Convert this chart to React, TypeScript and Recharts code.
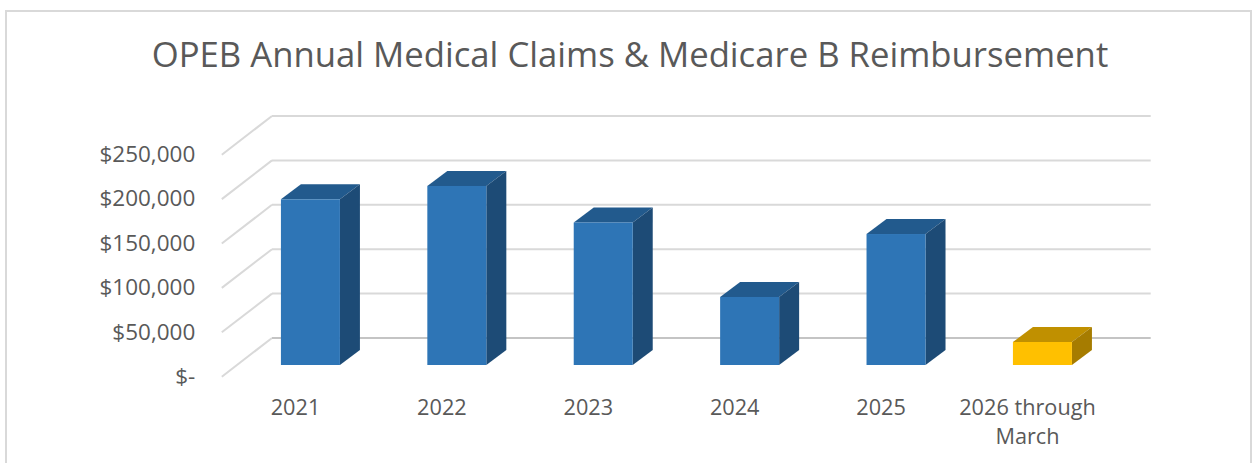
import { Bar, BarChart, CartesianGrid, XAxis, YAxis } from 'recharts'

const categories = ['2021', '2022', '2023', '2024', '2025', '2026 through March']
const claims = [186600, 201600, 160500, 76600, 147500, 25900]
const yTicks = [0, 50000, 100000, 150000, 200000, 250000]
const yTickLabels = ['$-', '$50,000', '$100,000', '$150,000', '$200,000', '$250,000']
const frontColors = ['#2E75B6', '#2E75B6', '#2E75B6', '#2E75B6', '#2E75B6', '#FFC000']
const topColors = ['#225A8D', '#225A8D', '#225A8D', '#225A8D', '#225A8D', '#C09000']
const sideColors = ['#1D4B76', '#1D4B76', '#1D4B76', '#1D4B76', '#1D4B76', '#A67C00']

const data = categories.map((name, i) => ({ name, claims: claims[i] }))

const FONT = '"Open Sans", sans-serif'
const TEXT_COLOR = '#595959'
const DEPTH_X = 20
const DEPTH_Y = 15

function Bar3D({ x, y, width, height, index }: any) {
  const r = x + width
  const b = y + height
  return (
    <g>
      <polygon points={`${x},${y} ${x + DEPTH_X},${y - DEPTH_Y} ${r + DEPTH_X},${y - DEPTH_Y} ${r},${y}`} fill={topColors[index]} />
      <polygon points={`${r},${y} ${r + DEPTH_X},${y - DEPTH_Y} ${r + DEPTH_X},${b - DEPTH_Y} ${r},${b}`} fill={sideColors[index]} />
      <rect x={x} y={y} width={width} height={height} fill={frontColors[index]} />
    </g>
  )
}

// wall and floor lines of the fake 3D box, offset from the value position
function GridLine3D({ x1, x2, y1, index }: any) {
  const back = y1 - 27
  const front = y1 + 11.7
  return (
    <g fill="none" stroke={index === 0 ? '#C4C4C4' : '#D9D9D9'} strokeWidth={2}>
      <line x1={x1 - 15.5} y1={front} x2={x1 + 34.7} y2={back} stroke="#D9D9D9" />
      <line x1={x1 + 34.7} y1={back} x2={x2 + 35} y2={back} />
    </g>
  )
}

function YTick({ x, y, payload }: any) {
  const i = yTicks.indexOf(payload.value)
  return (
    <text x={x} y={y + 10.5} textAnchor="end" dominantBaseline="central" fontFamily={FONT} fontSize={22.5} fill={TEXT_COLOR}>
      {yTickLabels[i]}
    </text>
  )
}

function XTick({ x, y, payload }: any) {
  const label: string = payload.value
  const lines = label.includes(' through ') ? [label.slice(0, label.lastIndexOf(' ')), label.slice(label.lastIndexOf(' ') + 1)] : [label]
  return (
    <text x={x - 15} y={y} textAnchor="middle" fontFamily={FONT} fontSize={21.7} fill={TEXT_COLOR}>
      {lines.map((line, i) => (
        <tspan key={line} x={x - 15} dy={i === 0 ? 0 : 29}>
          {line}
        </tspan>
      ))}
    </text>
  )
}

export default function App() {
  return (
    <div style={{ position: 'absolute', left: 0, top: 0, width: 1254, height: 463, overflow: 'hidden', background: '#fff' }}>
      <div style={{ position: 'absolute', left: 5, top: 10, width: 1247, height: 480, border: '2px solid #D9D9D9', boxSizing: 'border-box' }} />
      <div
        style={{
          position: 'absolute',
          left: 0,
          top: 32,
          width: 1260,
          textAlign: 'center',
          fontFamily: FONT,
          fontSize: 34.7,
          lineHeight: '44px',
          color: TEXT_COLOR,
          whiteSpace: 'nowrap',
        }}
      >
        OPEB Annual Medical Claims &amp; Medicare B Reimbursement
      </div>
      <BarChart
        width={1254}
        height={463}
        data={data}
        margin={{ top: 143, right: 138.3, bottom: 0, left: 0 }}
        barCategoryGap="29.8%"
        style={{ position: 'absolute', left: 0, top: 0 }}
      >
        <CartesianGrid vertical={false} horizontal={(props: any) => <GridLine3D key={props.index} {...props} />} />
        <XAxis
          dataKey="name"
          axisLine={false}
          tickLine={false}
          interval={0}
          height={98}
          tick={<XTick />}
          tickMargin={44}
        />
        <YAxis
          type="number"
          domain={[0, 250000]}
          ticks={yTicks}
          axisLine={false}
          tickLine={false}
          width={237.3}
          tick={<YTick />}
          tickMargin={36}
        />
        <Bar dataKey="claims" isAnimationActive={false} shape={<Bar3D />} />
      </BarChart>
    </div>
  )
}
